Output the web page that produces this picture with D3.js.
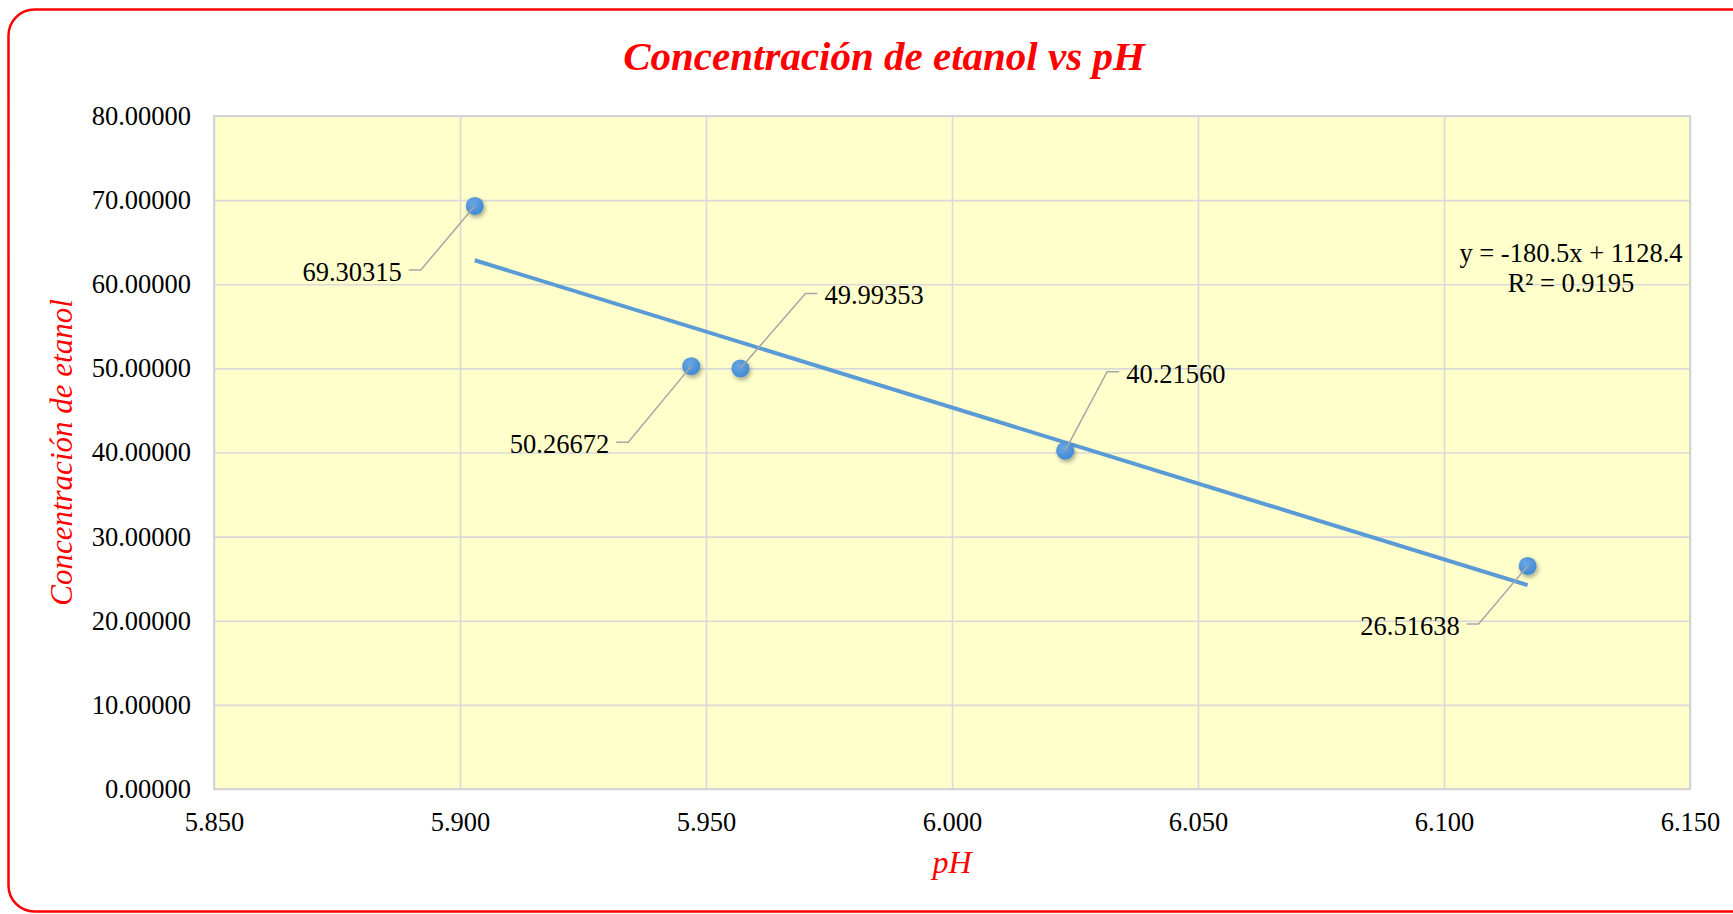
<!DOCTYPE html>
<html>
<head>
<meta charset="utf-8">
<script src="https://cdn.jsdelivr.net/npm/d3@7"></script>
<style>
  html, body { margin: 0; padding: 0; background: #fff; }
  svg { display: block; }
  .tick text { font-family: "Liberation Serif", "Times New Roman", serif; font-size: 26.5px; fill: #000; }
</style>
</head>
<body>
<div id="chart"></div>
<script>
// data
const ph = [5.903, 5.947, 5.957, 6.023, 6.117]
const etanol = [69.30315, 50.26672, 49.99353, 40.21560, 26.51638]
const xTicks = [5.85, 5.90, 5.95, 6.00, 6.05, 6.10, 6.15]
const yTicks = [0, 10, 20, 30, 40, 50, 60, 70, 80]
const equationLines = ['y = -180.5x + 1128.4', 'R² = 0.9195']

// leader line elbows for the data labels (offset from the point, and which side the text sits)
const labelLayout = [
    { dx: -54, dy: 64, side: 'left' },
    { dx: -63, dy: 76, side: 'left' },
    { dx: 65, dy: -75, side: 'right' },
    { dx: 42, dy: -79, side: 'right' },
    { dx: -49, dy: 58, side: 'left' }
]

const W = 1733
const H = 914
const margin = { left: 214, right: 43, top: 116, bottom: 125 }
const plotW = W - margin.left - margin.right
const plotH = H - margin.top - margin.bottom
const serif = '"Liberation Serif", "Times New Roman", serif'

const svg = d3.select('#chart').append('svg')
    .attr('width', W).attr('height', H)

const defs = svg.append('defs')
const shadow = defs.append('filter').attr('id', 'dot-shadow')
    .attr('x', '-60%').attr('y', '-60%').attr('width', '220%').attr('height', '220%')
shadow.append('feDropShadow')
    .attr('dx', 1.5).attr('dy', 2.5).attr('stdDeviation', 2)
    .attr('flood-color', '#000').attr('flood-opacity', 0.35)

const grad = defs.append('radialGradient').attr('id', 'dot-fill')
    .attr('cx', '40%').attr('cy', '35%').attr('r', '70%')
grad.append('stop').attr('offset', '0%').attr('stop-color', '#6aa7e4')
grad.append('stop').attr('offset', '100%').attr('stop-color', '#3f87d2')

// outer frame (chart is cut off on the right)
svg.append('rect')
    .attr('x', 8.5).attr('y', 9.5)
    .attr('width', 1780).attr('height', 902)
    .attr('rx', 26).attr('ry', 26)
    .attr('fill', '#fff')
    .attr('stroke', '#ff0000').attr('stroke-width', 2.5)

const x = d3.scaleLinear().domain([5.85, 6.15]).range([0, plotW])
const y = d3.scaleLinear().domain([0, 80]).range([plotH, 0])

const g = svg.append('g').attr('transform', `translate(${margin.left},${margin.top})`)

// plot area
g.append('rect')
    .attr('width', plotW).attr('height', plotH)
    .attr('fill', '#ffffcc')

// grid lines
g.append('g')
    .attr('class', 'grid-x')
    .call(d3.axisBottom(x).tickValues(xTicks).tickSize(plotH).tickFormat(''))
    .call(a => a.select('.domain').remove())
    .call(a => a.selectAll('line').attr('stroke', '#d9d9d9').attr('stroke-width', 1.6))

g.append('g')
    .attr('class', 'grid-y')
    .call(d3.axisLeft(y).tickValues(yTicks).tickSize(-plotW).tickFormat(''))
    .call(a => a.select('.domain').remove())
    .call(a => a.selectAll('line').attr('stroke', '#d9d9d9').attr('stroke-width', 1.6))

g.append('rect')
    .attr('width', plotW).attr('height', plotH)
    .attr('fill', 'none')
    .attr('stroke', '#d4d4d4').attr('stroke-width', 2)

// axes labels
g.append('g')
    .call(d3.axisLeft(y).tickValues(yTicks).tickSize(0).tickPadding(23).tickFormat(d3.format('.5f')))
    .call(a => a.select('.domain').remove())

g.append('g')
    .attr('transform', `translate(0,${plotH})`)
    .call(d3.axisBottom(x).tickValues(xTicks).tickSize(0).tickPadding(23).tickFormat(d3.format('.3f')))
    .call(a => a.select('.domain').remove())

const points = ph.map((v, i) => ({ x: v, y: etanol[i] }))

// linear trendline (least squares)
const mx = d3.mean(ph)
const my = d3.mean(etanol)
const slope = d3.sum(points, p => (p.x - mx) * (p.y - my)) / d3.sum(points, p => (p.x - mx) ** 2)
const intercept = my - slope * mx
const xExt = d3.extent(ph)

g.append('line')
    .attr('x1', x(xExt[0])).attr('y1', y(slope * xExt[0] + intercept))
    .attr('x2', x(xExt[1])).attr('y2', y(slope * xExt[1] + intercept))
    .attr('stroke', '#5b9bd5').attr('stroke-width', 4)

// leader lines + data labels
const labels = g.append('g').attr('class', 'data-labels')
points.forEach((p, i) => {
    const lay = labelLayout[i]
    const px = x(p.x), py = y(p.y)
    const ex = px + lay.dx, ey = py + lay.dy
    const dir = lay.side === 'left' ? -1 : 1
    labels.append('polyline')
        .attr('points', [[px, py], [ex, ey], [ex + dir * 12, ey]].map(q => q.join(',')).join(' '))
        .attr('fill', 'none')
        .attr('stroke', '#a6a6a6').attr('stroke-width', 1.5)
    labels.append('text')
        .attr('x', ex + dir * 19).attr('y', ey + 2)
        .attr('text-anchor', lay.side === 'left' ? 'end' : 'start')
        .attr('dominant-baseline', 'central')
        .attr('font-family', serif).attr('font-size', 26.5)
        .text(d3.format('.5f')(p.y))
})

// markers
g.selectAll('circle.dot')
    .data(points).enter()
    .append('circle')
    .attr('class', 'dot')
    .attr('cx', d => x(d.x)).attr('cy', d => y(d.y))
    .attr('r', 9)
    .attr('fill', 'url(#dot-fill)')
    .attr('filter', 'url(#dot-shadow)')

// bring leader lines over the dots like the original
labels.raise()

// trendline equation
const eq = g.append('text')
    .attr('font-family', serif).attr('font-size', 26.5)
    .attr('text-anchor', 'middle')
eq.selectAll('tspan')
    .data(equationLines).enter()
    .append('tspan')
    .attr('x', 1571 - margin.left)
    .attr('y', (d, i) => 262 - margin.top + i * 30)
    .text(d => d)

// titles
svg.append('text')
    .attr('x', 884).attr('y', 70)
    .attr('text-anchor', 'middle')
    .attr('font-family', serif).attr('font-size', 41)
    .attr('font-style', 'italic').attr('font-weight', 'bold')
    .attr('fill', '#ff0000')
    .text('Concentración de etanol vs pH')

svg.append('text')
    .attr('transform', `translate(72,${margin.top + plotH / 2}) rotate(-90)`)
    .attr('text-anchor', 'middle')
    .attr('font-family', serif).attr('font-size', 31)
    .attr('font-style', 'italic')
    .attr('fill', '#ff0000')
    .text('Concentración de etanol')

svg.append('text')
    .attr('x', margin.left + plotW / 2).attr('y', 873)
    .attr('text-anchor', 'middle')
    .attr('font-family', serif).attr('font-size', 32)
    .attr('font-style', 'italic')
    .attr('fill', '#ff0000')
    .text('pH')
</script>
</body>
</html>
